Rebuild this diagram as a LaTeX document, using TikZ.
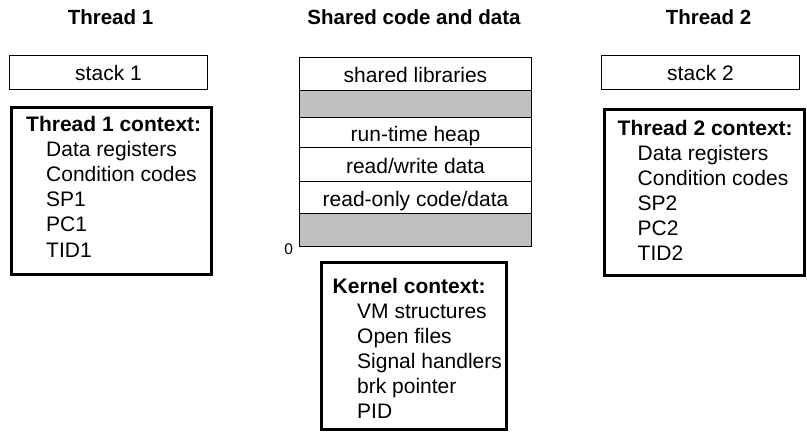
\documentclass[tikz,border=0pt]{standalone}
\usepackage{fontspec}
\setmainfont{Liberation Sans}
\definecolor{shade}{RGB}{192,192,192}
\begin{document}
\begin{tikzpicture}[x=1pt,y=-1pt,
  every node/.style={font=\fontsize{21}{25.1}\selectfont, inner sep=0pt},
  head/.style={font=\fontsize{20.5}{24}\selectfont\bfseries},
  thinbox/.style={draw, line width=1pt, text height=19pt, text depth=1.6pt},
  rowbox/.style={thinbox, minimum width=232.5pt},
  grayrow/.style={rowbox, fill=shade},
  ctxbox/.style={draw, line width=3pt},
  ctxtext/.style={anchor=north west, align=left}
]
\useasboundingbox (0,0) rectangle (807,439);

% headers
\node[head] (h1) at (110.5,17.3) {Thread 1};
\node[head] (hs) at (414,17.3) {Shared code and data};
\node[head] (h2) at (708.5,17.3) {Thread 2};

% stacks
\node[thinbox, minimum width=198pt, minimum height=34pt] (s1) at (108.5,72) {stack 1};
\node[thinbox, minimum width=198pt, minimum height=34pt] (s2) at (700.5,72) {stack 2};

% shared address space
\node[rowbox, minimum height=33.4pt] (lib) at (415.5,74) {shared libraries};
\node[grayrow, minimum height=27pt] (g1) at (415.5,104.2) {};
\node[rowbox, minimum height=30pt] (heap) at (415.5,132.7) {run-time heap};
\node[rowbox, minimum height=34pt] (rw) at (415.5,164.7) {read/write data};
\node[rowbox, minimum height=31.6pt] (ro) at (415.5,197.5) {read-only code/data};
\node[grayrow, minimum height=33.4pt] (g2) at (415.5,230) {};
\node[font=\fontsize{15.5}{18}\selectfont] (zero) at (288.7,248.7) {0};

% thread 1 context
\node[ctxbox, minimum width=200pt, minimum height=166.7pt] (c1) at (111.3,190.7) {};
\node[ctxtext] (c1t) at (26,111.3)
  {\textbf{Thread 1 context:}\rule{0pt}{20pt}\\
   \hspace*{20pt}Data registers\\
   \hspace*{20pt}Condition codes\\
   \hspace*{20pt}SP1\\
   \hspace*{20pt}PC1\\
   \hspace*{20pt}TID1};

% thread 2 context
\node[ctxbox, minimum width=200pt, minimum height=166pt] (c2) at (704.5,192) {};
\node[ctxtext] (c2t) at (617.5,115)
  {\textbf{Thread 2 context:}\rule{0pt}{20pt}\\
   \hspace*{20pt}Data registers\\
   \hspace*{20pt}Condition codes\\
   \hspace*{20pt}SP2\\
   \hspace*{20pt}PC2\\
   \hspace*{20pt}TID2};

% kernel context
\node[ctxbox, minimum width=185pt, minimum height=167pt] (kc) at (414,346) {};
\node[ctxtext] (kct) at (332.5,273)
  {\textbf{Kernel context:}\rule{0pt}{20pt}\\
   \hspace*{24.5pt}VM structures\\
   \hspace*{24.5pt}Open files\\
   \hspace*{24.5pt}Signal handlers\\
   \hspace*{24.5pt}brk pointer\\
   \hspace*{24.5pt}PID};
\end{tikzpicture}
\end{document}
